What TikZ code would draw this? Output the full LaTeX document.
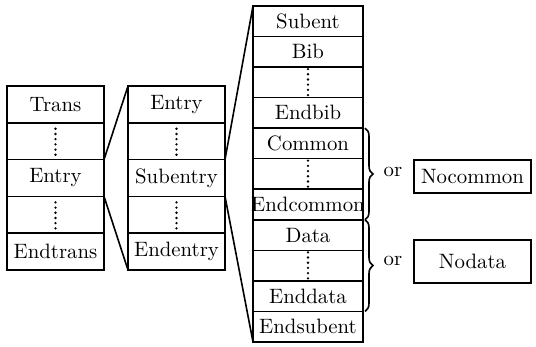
\documentclass[tikz,border=0pt]{standalone}
\usepackage{tikz}
\usetikzlibrary{positioning,decorations.pathreplacing}

\begin{document}
\begin{tikzpicture}[x=0.5pt, y=-0.5pt,
		line width = 0.8pt,
		node distance = 0pt,
		every node/.style={font=\fontsize{10.4}{12}\selectfont},
		outrow/.style={draw, rectangle, outer sep=0pt, inner sep=0pt, minimum width=48.5pt, minimum height=18.4pt},
		subrow/.style={draw, rectangle, outer sep=0pt, inner sep=0pt, minimum width=55pt, minimum height=15.27pt},
		altbox/.style={draw, rectangle, inner sep=0pt, minimum width=58.5pt},
		dotline/.style={line width=1.3pt, line cap=round, dash pattern=on 0pt off 2.6pt, shorten <=3pt, shorten >=2pt},
		curly/.style={decorate, decoration={brace, amplitude=4pt, raise=1pt}}]

	\useasboundingbox (0,0) rectangle (536,347);

	% file level
	\node [outrow, anchor=north west] (t1) at (7,86) {Trans};
	\node [outrow, below=of t1] (t2) {};
	\node [outrow, below=of t2] (t3) {Entry};
	\node [outrow, below=of t3] (t4) {};
	\node [outrow, below=of t4] (t5) {Endtrans};

	% entry level
	\node [outrow, anchor=north west] (e1) at (128,86) {Entry};
	\node [outrow, below=of e1] (e2) {};
	\node [outrow, below=of e2] (e3) {Subentry};
	\node [outrow, below=of e3] (e4) {};
	\node [outrow, below=of e4] (e5) {Endentry};

	% subentry level
	\node [subrow, anchor=north west] (s1) at (253,6) {Subent};
	\node [subrow, below=of s1] (s2) {Bib};
	\node [subrow, below=of s2] (s3) {};
	\node [subrow, below=of s3] (s4) {Endbib};
	\node [subrow, below=of s4] (s5) {Common};
	\node [subrow, below=of s5] (s6) {};
	\node [subrow, below=of s6] (s7) {\makebox[0pt]{Endcommon}};
	\node [subrow, below=of s7] (s8) {Data};
	\node [subrow, below=of s8] (s9) {};
	\node [subrow, below=of s9] (s10) {Enddata};
	\node [subrow, below=of s10] (s11) {Endsubent};

	% dots
	\foreach \r in {t2,t4,e2,e4}
		\draw [dotline] (\r.north) -- (\r.south);
	\foreach \r in {s3,s6,s9}
		\draw [dotline, shorten <=1pt, shorten >=1pt] (\r.north) -- (\r.south);

	% expansions
	\draw (t3.north east) -- (e1.north west);
	\draw (t3.south east) -- (e5.south west);
	\draw (e3.north east) -- (s1.north west);
	\draw (e3.south east) -- (s11.south west);

	% alternatives
	\draw [curly] (s5.north east) -- (s7.south east);
	\draw [curly] (s8.north east) -- (s10.south east);
	\node (or1) at (393,172) {or};
	\node (or2) at (393,261) {or};
	\node [altbox, minimum height=16.5pt] (nocom) at (472.5,176.5) {Nocommon};
	\node [altbox, minimum height=21.5pt] (nodat) at (472.5,261.5) {Nodata};

\end{tikzpicture}
\end{document}
